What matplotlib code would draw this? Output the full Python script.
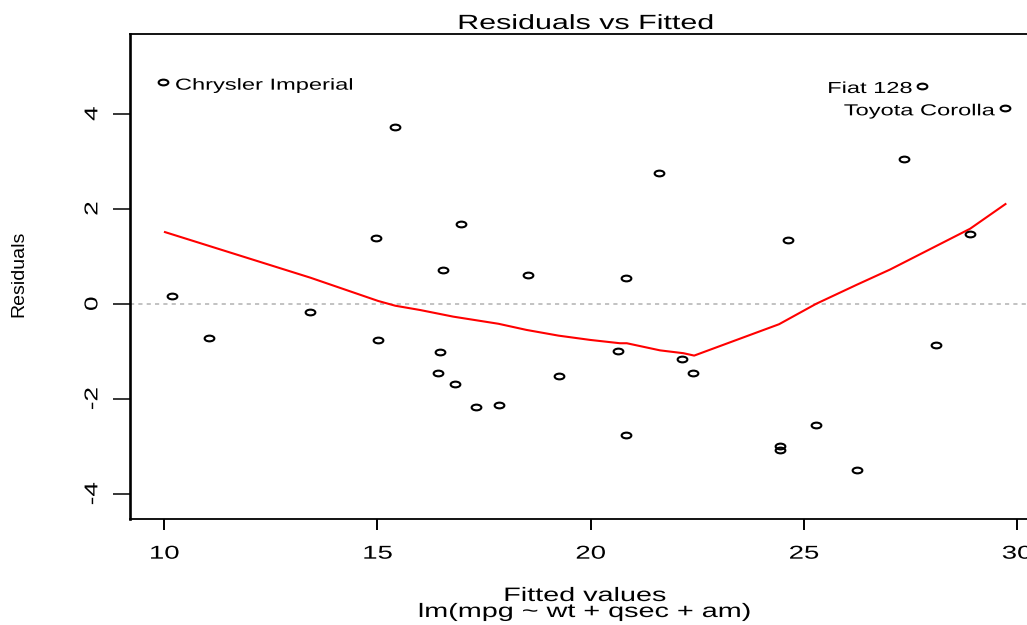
import numpy as np
import matplotlib
matplotlib.use("Agg")
from matplotlib import pyplot as plt
from matplotlib.path import Path
from matplotlib.transforms import Affine2D
from matplotlib.patheffects import AbstractPathEffect

plt.rcParams["font.family"] = ["Liberation Sans", "DejaVu Sans"]
plt.rcParams["axes.unicode_minus"] = False

# fitted values and residuals of lm(mpg ~ wt + qsec + am)
fitted = [9.98, 10.18, 11.05, 13.43, 14.96, 15.01, 15.42, 16.42, 16.46, 16.55,
          16.82, 16.96, 17.32, 17.85, 18.53, 19.25, 20.64, 20.83, 20.83, 21.60,
          22.15, 22.41, 24.44, 24.44, 24.62, 25.29, 26.25, 27.34, 27.77, 28.09,
          28.91, 29.71]
resid = [4.66, 0.17, -0.71, -0.17, 1.39, -0.76, 3.73, -1.46, -1.02, 0.72,
         -1.68, 1.68, -2.18, -2.12, 0.61, -1.52, -1.00, 0.55, -2.76, 2.76,
         -1.17, -1.46, -3.00, -3.08, 1.35, -2.56, -3.49, 3.05, 4.59, -0.86,
         1.47, 4.12]

# the three largest residuals get a name
outliers = [0, 28, 31]
outlier_names = ["Chrysler Imperial", "Fiat 128", "Toyota Corolla"]

# lowess smoother through the residuals
smooth_x = [10.02, 13.43, 15.02, 15.42, 16.0, 16.78, 17.84, 18.50, 19.25, 19.99,
            20.69, 20.85, 21.63, 22.18, 22.43, 24.42, 25.29, 26.24, 27.02, 28.90,
            29.73]
smooth_y = [1.51, 0.55, 0.06, -0.04, -0.13, -0.27, -0.42, -0.55, -0.67, -0.76,
            -0.83, -0.83, -0.98, -1.04, -1.09, -0.43, 0.0, 0.40, 0.72, 1.58,
            2.10]

x_ticks = [10, 15, 20, 25, 30]
y_ticks = [-4, -2, 0, 2, 4]


class WideText(AbstractPathEffect):
    """Draw text glyphs stretched about an anchor point of their extent."""

    def __init__(self, sx=1.48, sy=1.0, anchor=0.5):
        super().__init__()
        self.sx = sx
        self.sy = sy
        self.anchor = anchor

    def draw_path(self, renderer, gc, tpath, affine, rgbFace=None):
        verts = affine.transform(tpath.vertices)
        cx = cy = 0.0
        if len(verts):
            x0, x1 = verts[:, 0].min(), verts[:, 0].max()
            y0, y1 = verts[:, 1].min(), verts[:, 1].max()
            cx = x0 + self.anchor * (x1 - x0)
            cy = 0.5 * (y0 + y1)
        wide = affine + (Affine2D().translate(-cx, -cy)
                         .scale(self.sx, self.sy).translate(cx, cy))
        renderer.draw_path(gc, tpath, wide, rgbFace)


W, H = 1027, 625
fig = plt.figure(figsize=(W / 100, H / 100), dpi=100)
ax = fig.add_axes([130 / W, 1 - 519 / H, 910 / W, 485 / H])

ellipse = Path.unit_circle().transformed(Affine2D().scale(1.7, 1.0))

ax.axhline(0, color="#b8b8b8", lw=1.2, ls=(0, (2.5, 2.5)), zorder=1)
ax.plot(smooth_x, smooth_y, color="red", lw=1.5, zorder=2)
ax.plot(fitted, resid, ls="none", marker=ellipse, ms=7.0, mew=1.5,
        mec="black", mfc="none", zorder=3)

for i, name in zip(outliers, outlier_names):
    if i == 0:
        ha, dx, anchor = "left", 8.4, 0.0
    else:
        ha, dx, anchor = "right", -6.8, 1.0
    ax.annotate(name, (fitted[i], resid[i]), xytext=(dx, -5.2),
                textcoords="offset points", ha=ha, va="baseline",
                fontsize=11.5, path_effects=[WideText(anchor=anchor)])

ax.set_xlim(9.2, 30.54)
ax.set_ylim(-4.53, 5.68)
ax.set_xticks(x_ticks)
ax.set_yticks(y_ticks)
ax.tick_params(axis="x", length=7.7, width=1.4, pad=11.5, labelsize=13.4)
ax.tick_params(axis="y", length=12.2, width=1.1, pad=8.4, labelsize=13.4,
               labelrotation=90)
for lbl in ax.get_yticklabels():
    lbl.set_va("center")
    lbl.set_path_effects([WideText(sx=1.0, sy=1.4)])
for lbl in ax.get_xticklabels():
    lbl.set_path_effects([WideText()])

for side in ["top", "bottom", "right"]:
    ax.spines[side].set_linewidth(1.3)
ax.spines["left"].set_linewidth(1.9)

ax.set_title("Residuals vs Fitted", fontsize=14.8, pad=3.6,
             path_effects=[WideText()])

ax.set_xlabel("Fitted values", fontsize=14, va="baseline",
              path_effects=[WideText()])
ax.xaxis.set_label_coords(0.5, (519 - 601) / 485)
ax.text(0.5, (519 - 617) / 485, "lm(mpg ~ wt + qsec + am)", transform=ax.transAxes,
        ha="center", va="baseline", fontsize=14, path_effects=[WideText()])

ax.set_ylabel("Residuals", fontsize=14, ha="center", va="center")
ax.yaxis.set_label_coords((18.5 - 130) / 910, 0.5 + (276.5 - 274) / 485)

fig.savefig("out.png", dpi=100)
